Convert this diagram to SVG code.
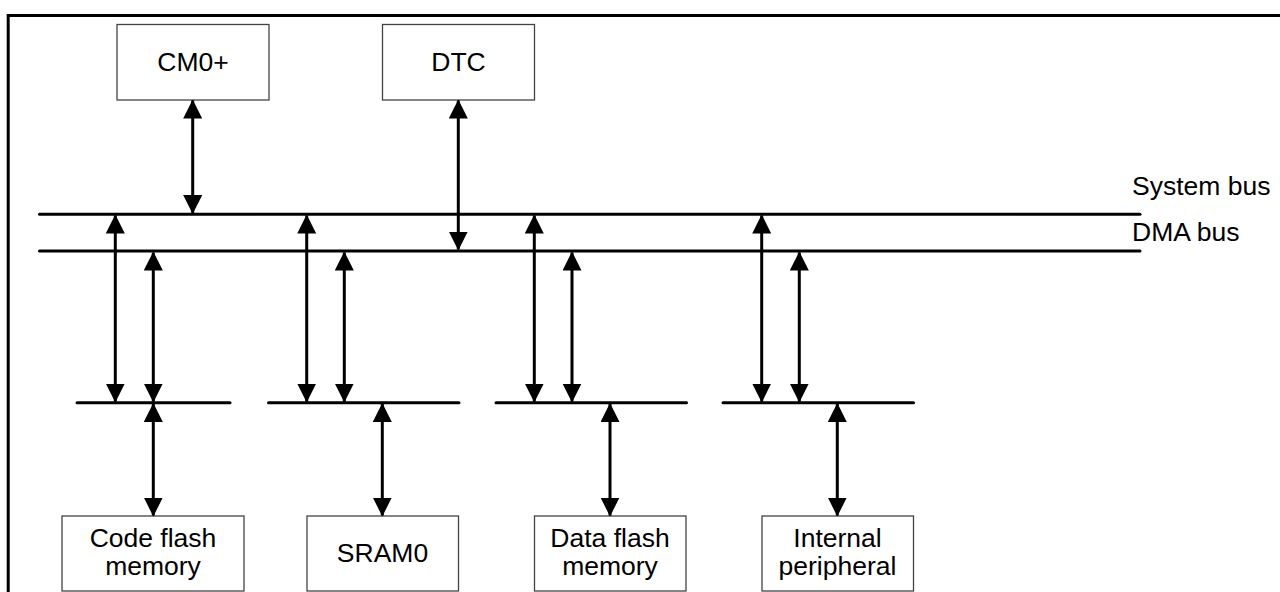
<svg xmlns="http://www.w3.org/2000/svg" width="1280" height="592" viewBox="0 0 1280 592">
<style>
.box{fill:#fff;stroke:#444;stroke-width:1.3}
.t{font-family:"Liberation Sans",Arial,sans-serif;font-size:26.5px;fill:#000;text-anchor:middle}
.lbl{font-family:"Liberation Sans",Arial,sans-serif;font-size:26.5px;fill:#000}
.bus{stroke:#000;stroke-width:3;stroke-linecap:round;fill:none}
.ar{stroke:#000;stroke-width:3;fill:none;marker-start:url(#ah);marker-end:url(#ah)}
</style>
<defs>
<marker id="ah" markerUnits="userSpaceOnUse" markerWidth="20" markerHeight="20" refX="18" refY="9.5" orient="auto-start-reverse" viewBox="0 0 20 20">
<path d="M0,0 L19,9.5 L0,19 z" fill="#000"/>
</marker>
</defs>
<rect width="1280" height="592" fill="#fff"/>
<path d="M8.2,592 V15.5 H1280" fill="none" stroke="#000" stroke-width="3"/>
<g id="cm0">
<rect class="box" x="117" y="24.5" width="152" height="75.5"/>
<text class="t" x="193" y="70.7">CM0+</text>
</g>
<g id="dtc">
<rect class="box" x="382.5" y="24.5" width="152" height="75.5"/>
<text class="t" x="458.5" y="70.7">DTC</text>
</g>
<g id="system-bus">
<line class="bus" x1="39.5" y1="214.3" x2="1140" y2="214.3"/>
<text class="lbl" x="1132" y="195">System bus</text>
</g>
<g id="dma-bus">
<line class="bus" x1="39.5" y1="251" x2="1140" y2="251"/>
<text class="lbl" x="1132" y="240.7">DMA bus</text>
</g>
<g id="sub-buses">
<line class="bus" x1="77" y1="402.7" x2="230" y2="402.7"/>
<line class="bus" x1="268.5" y1="402.7" x2="459" y2="402.7"/>
<line class="bus" x1="496" y1="402.7" x2="686.5" y2="402.7"/>
<line class="bus" x1="723" y1="402.7" x2="913.5" y2="402.7"/>
</g>
<g id="code-flash">
<rect class="box" x="62" y="516" width="182" height="75"/>
<text class="t" x="153" y="546.5">Code flash</text>
<text class="t" x="153" y="575">memory</text>
</g>
<g id="sram0">
<rect class="box" x="307" y="516" width="151.5" height="75"/>
<text class="t" x="382.5" y="562">SRAM0</text>
</g>
<g id="data-flash">
<rect class="box" x="534.5" y="516" width="151.5" height="75"/>
<text class="t" x="610" y="546.5">Data flash</text>
<text class="t" x="610" y="575">memory</text>
</g>
<g id="internal-peripheral">
<rect class="box" x="762" y="516" width="151.5" height="75"/>
<text class="t" x="837.5" y="546.5">Internal</text>
<text class="t" x="837.5" y="575">peripheral</text>
</g>
<g id="connectors">
<line class="ar" x1="192.7" y1="100.5" x2="192.7" y2="213"/>
<line class="ar" x1="458.3" y1="100.5" x2="458.3" y2="249.5"/>
<line class="ar" x1="115.3" y1="215.5" x2="115.3" y2="401.5"/>
<line class="ar" x1="153.3" y1="252.5" x2="153.3" y2="401.5"/>
<line class="ar" x1="306.7" y1="215.5" x2="306.7" y2="401.5"/>
<line class="ar" x1="344.3" y1="252.5" x2="344.3" y2="401.5"/>
<line class="ar" x1="534.3" y1="215.5" x2="534.3" y2="401.5"/>
<line class="ar" x1="572" y1="252.5" x2="572" y2="401.5"/>
<line class="ar" x1="761.7" y1="215.5" x2="761.7" y2="401.5"/>
<line class="ar" x1="799.3" y1="252.5" x2="799.3" y2="401.5"/>
<line class="ar" x1="153.3" y1="404" x2="153.3" y2="515.5"/>
<line class="ar" x1="382.3" y1="404" x2="382.3" y2="515.5"/>
<line class="ar" x1="610" y1="404" x2="610" y2="515.5"/>
<line class="ar" x1="837.3" y1="404" x2="837.3" y2="515.5"/>
</g>
</svg>
